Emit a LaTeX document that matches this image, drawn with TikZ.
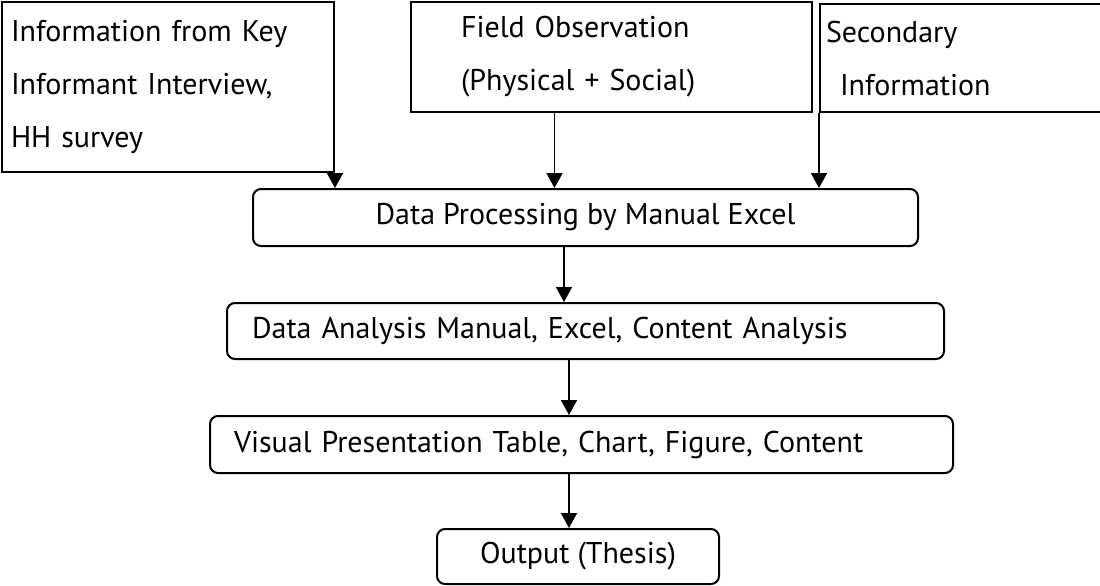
\documentclass[tikz,border=0pt]{standalone}
\usepackage{fontspec}
\setmainfont{PT Sans}
\usetikzlibrary{arrows.meta}

\tikzset{
  srcbox/.style={draw, line width=1pt, anchor=north west, align=left, inner ysep=0pt},
  stagebox/.style={draw, line width=1pt, rounded corners=4pt, anchor=north west, inner ysep=0pt},
  flow/.style={->, line width=0.9pt}
}

\begin{document}
\begin{tikzpicture}[x=0.5pt,y=-0.5pt,>={Triangle[length=7.5pt,width=8pt]},font=\fontsize{15}{26.5}\selectfont]
\useasboundingbox (0,0) rectangle (1100,585);
\clip (0,0) rectangle (1100,585);

% sources
\node[srcbox, minimum height=85pt, text width=157pt, inner xsep=4.5pt] (info) at (1,1) {Information from Key\\Informant Interview,\\HH survey};
\node[srcbox, minimum height=55pt, text width=150.5pt, inner xsep=25pt] (field) at (410,1) {Field Observation\\(Physical + Social)};
\node[srcbox, minimum height=54pt, text width=144pt, inner xsep=3pt] (sec) at (819,3) {Secondary\\\hspace*{7pt}Information};

% stages
\node[stagebox, minimum width=332.5pt, minimum height=28.5pt] (proc) at (252,188) {Data Processing by Manual Excel};
\node[stagebox, minimum height=28pt, text width=333.5pt, inner xsep=12.5pt, align=left] (ana) at (226,302) {Data Analysis Manual, Excel, Content Analysis};
\node[stagebox, minimum height=28.5pt, text width=347.5pt, inner xsep=12pt, align=left] (vis) at (209,415) {Visual Presentation Table, Chart, Figure, Content};
\node[stagebox, minimum width=141pt, minimum height=27.5pt] (outp) at (436,528) {Output (Thesis)};

\draw[flow] (info.south east) -- (info.south east |- proc.north);
\draw[flow] ([xshift=-28.5pt]field.south) -- ([xshift=-28.5pt]field.south |- proc.north);
\draw[flow] (sec.south west) -- (sec.south west |- proc.north);
\draw[flow] ([xshift=-10.75pt]proc.south) -- ([xshift=-10.75pt]proc.south |- ana.north);
\draw[flow] ([xshift=-4.5pt]outp.north |- ana.south) -- ([xshift=-4.5pt]outp.north |- vis.north);
\draw[flow] ([xshift=-4.5pt]outp.north |- vis.south) -- ([xshift=-4.5pt]outp.north);

\end{tikzpicture}
\end{document}
